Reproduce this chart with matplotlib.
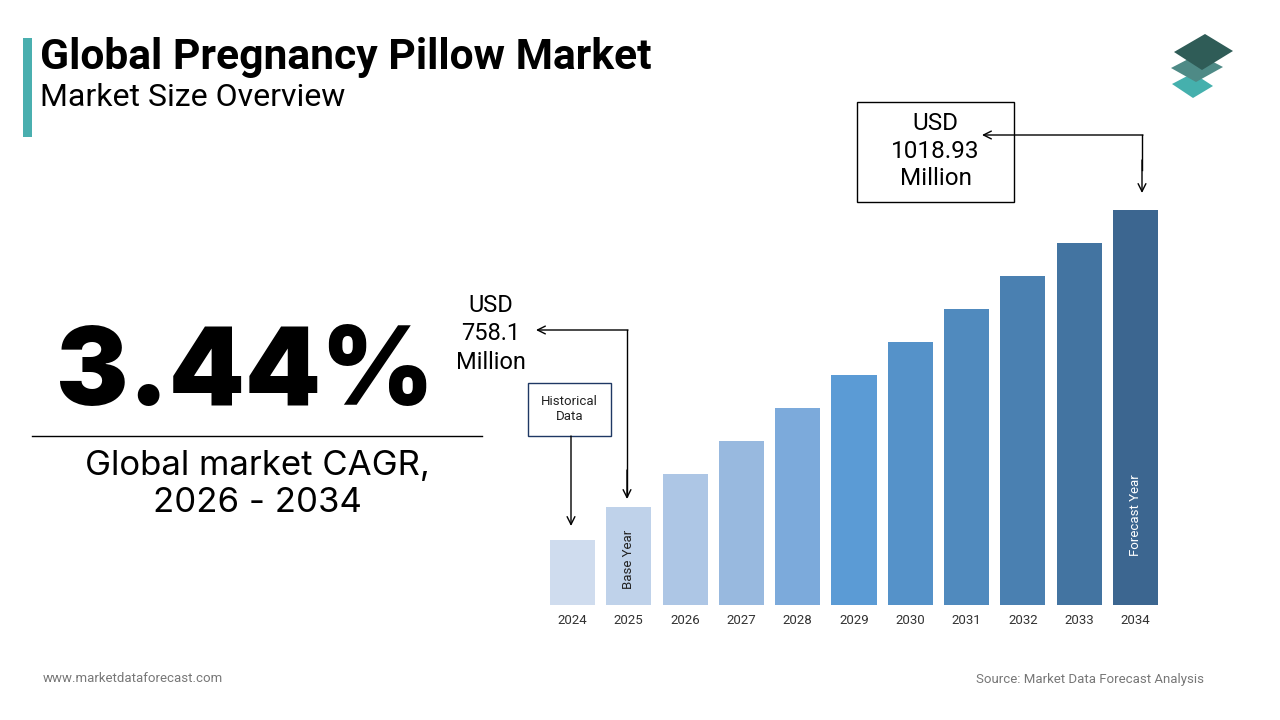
import matplotlib
matplotlib.use('Agg')
import matplotlib.pyplot as plt
from matplotlib.patches import Rectangle, Polygon

# chart data
years = ['2024', '2025', '2026', '2027', '2028', '2029', '2030', '2031', '2032', '2033', '2034']
bar_heights = [65, 98, 131, 164, 197, 230, 263, 296, 329, 362, 395]
bar_colors = ['#cfdcee', '#bfd2ea', '#adc6e5', '#98b9df', '#7caadb', '#5b9bd5',
              '#5592c9', '#508abe', '#4a80b1', '#4374a1', '#3c6690']
base_value = '758.1'
forecast_value = '1018.93'
cagr = '3.44%'
cagr_period = '2026 - 2034'

plt.rcParams['font.family'] = ['Roboto', 'DejaVu Sans']

W, H = 1280, 720
fig = plt.figure(figsize=(12.8, 7.2), dpi=100)
fig.patch.set_facecolor('white')

# bar axes, 1 data unit = 1 px
bw = 56.3
left = 572.5 - 0.5 * bw
axb = fig.add_axes([left / W, 1 - 605 / H, 11 * bw / W, 400 / H])
axb.bar(range(len(years)), bar_heights, width=0.8, color=bar_colors)
axb.set_xlim(-0.5, 10.5)
axb.set_ylim(0, 400)
axb.axis('off')
for i, y in enumerate(years):
    axb.text(i, -15, y, ha='center', va='center', fontsize=9.5, color='#333333')
axb.text(1, 46, 'Base Year', rotation=90, ha='center', va='center',
         fontsize=9.5, color='#222222')
axb.text(10, 90, 'Forecast Year', rotation=90, ha='center', va='center',
         fontsize=9.5, color='white')

# overlay in pixel coordinates
ax = fig.add_axes([0, 0, 1, 1])
ax.set_xlim(0, W)
ax.set_ylim(H, 0)
ax.axis('off')
ax.patch.set_alpha(0)

# header
ax.add_patch(Rectangle((23, 38), 9, 99, color='#4aafaf', lw=0))
ax.text(40, 57, 'Global Pregnancy Pillow Market', fontsize=30.7, fontweight='bold',
        va='center', ha='left', color='black')
ax.text(40, 98, 'Market Size Overview', fontsize=23, va='center', ha='left', color='black')

# logo
ax.add_patch(Polygon([(1172, 84), (1193, 73), (1213, 86), (1193, 98)], closed=True,
                     color='#45b0ad', lw=0))
ax.add_patch(Polygon([(1171, 68), (1198, 54), (1223, 67), (1196, 82)], closed=True,
                     color='#4e8a86', lw=0))
ax.add_patch(Polygon([(1174, 52), (1205, 34), (1233, 51), (1202, 70)], closed=True,
                     color='#2f5c57', lw=0))

# CAGR block
ax.text(245, 377, cagr, fontsize=78, fontweight='black', family=['Inter', 'DejaVu Sans'],
        ha='center', va='center', color='black')
ax.plot([32, 482], [436, 436], color='black', lw=1)
ax.text(257, 466, 'Global market CAGR,', fontsize=25, family=['Inter', 'DejaVu Sans'],
        ha='center', va='center', color='black')
ax.text(257, 503, cagr_period, fontsize=25, family=['Inter', 'DejaVu Sans'],
        ha='center', va='center', color='black')

# 2025 annotation
ax.text(491, 334, 'USD\n' + base_value + '\nMillion', fontsize=17, ha='center', va='center',
        linespacing=1.3, color='black')
ax.plot([627, 627], [330, 496], color='black', lw=1)
ax.annotate('', xy=(536, 330), xytext=(628, 330),
            arrowprops=dict(arrowstyle='->', color='black', lw=1, shrinkA=0, shrinkB=0,
                            mutation_scale=14))
ax.annotate('', xy=(627, 499), xytext=(627, 470),
            arrowprops=dict(arrowstyle='->', color='black', lw=1, shrinkA=0, shrinkB=0,
                            mutation_scale=14))

# historical data box
ax.add_patch(Rectangle((528, 383), 83, 53, fill=False, ec='#1f3864', lw=1))
ax.text(569.5, 409, 'Historical\nData', fontsize=9.5, ha='center', va='center',
        linespacing=1.2, color='#222222')
ax.annotate('', xy=(571, 526), xytext=(571, 436),
            arrowprops=dict(arrowstyle='->', color='black', lw=1, shrinkA=0, shrinkB=0,
                            mutation_scale=14))

# 2034 annotation
ax.add_patch(Rectangle((857, 102), 157, 100, fill=False, ec='black', lw=1))
ax.text(935.5, 151, 'USD\n' + forecast_value + '\nMillion', fontsize=17.5, ha='center',
        va='center', linespacing=1.25, color='black')
ax.plot([1142, 1142], [135, 170], color='black', lw=1)
ax.annotate('', xy=(982, 135), xytext=(1143, 135),
            arrowprops=dict(arrowstyle='->', color='black', lw=1, shrinkA=0, shrinkB=0,
                            mutation_scale=14))
ax.annotate('', xy=(1142, 193), xytext=(1142, 160),
            arrowprops=dict(arrowstyle='->', color='black', lw=1, shrinkA=0, shrinkB=0,
                            mutation_scale=14))

# footer
ax.text(43, 679, 'www.marketdataforecast.com', fontsize=9.5, color='#777777',
        ha='left', va='center')
ax.text(1204, 679, 'Source: Market Data Forecast Analysis', fontsize=9.5, color='#777777',
        ha='right', va='center')

fig.savefig('out.png', dpi=100, facecolor='white')
